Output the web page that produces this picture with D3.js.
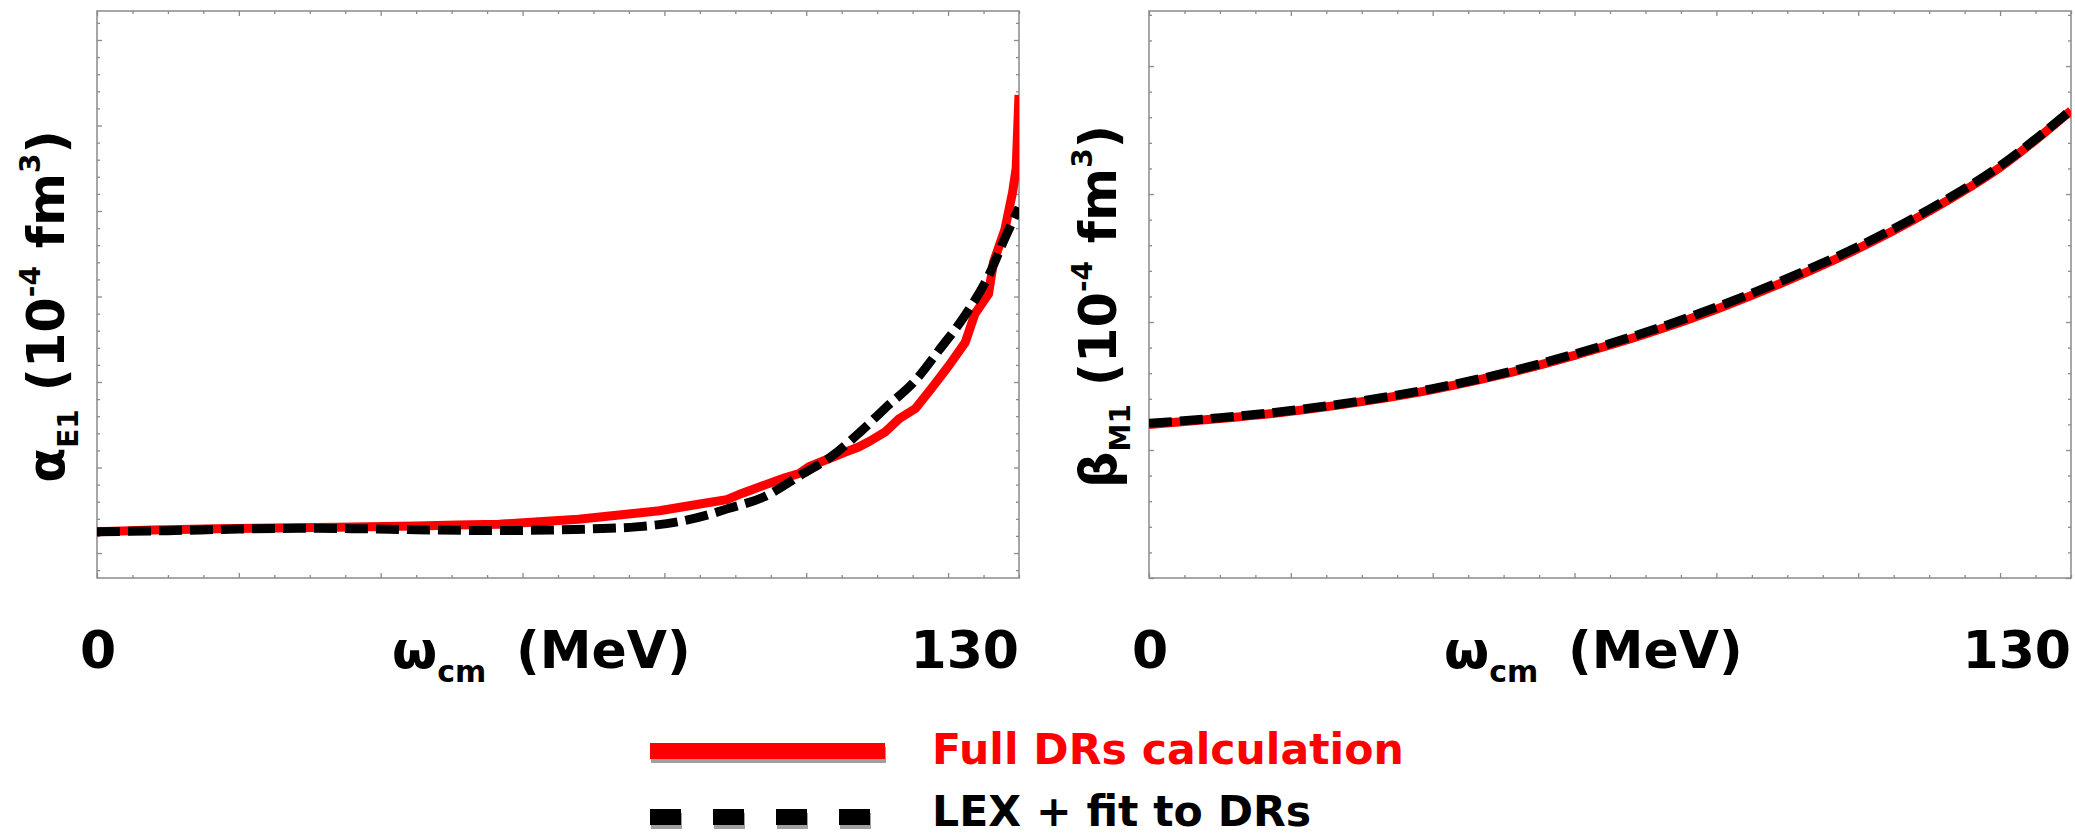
<!DOCTYPE html>
<html>
<head>
<meta charset="utf-8">
<script src="https://cdn.jsdelivr.net/npm/d3@7"></script>
<style>
  body { margin: 0; background: #fff; }
  svg { display: block; }
  text { font-family: "DejaVu Sans", sans-serif; font-weight: bold; white-space: pre; }
</style>
</head>
<body>
<svg id="chart" width="2075" height="837"></svg>
<script>
// Electric polarizability alpha_E1(omega), full dispersion-relation calculation
const omegaAlphaDR = [0, 8, 17, 25, 33.8, 45.1, 50.8, 56.7, 62.3, 67.9, 73.6, 79.3, 85, 88.8, 91, 94.3, 97, 99,
  100.4, 103.7, 105.5, 107.4, 109, 111.2, 113.1, 115.4, 117.7, 120.1, 122.4, 123.8, 125.7, 126.4, 128, 129.1, 129.6, 130];
const alphaDR = [10.249, 10.268, 10.284, 10.294, 10.301, 10.316, 10.327, 10.336, 10.366, 10.394, 10.444, 10.495, 10.573,
  10.625, 10.70, 10.80, 10.88, 10.93, 11.01, 11.12, 11.18, 11.24, 11.31, 11.42, 11.57, 11.69, 11.93, 12.19,
  12.46, 12.80, 13.03, 13.40, 13.78, 14.22, 14.50, 15.357];

// alpha_E1(omega) from the low-energy expansion fitted to the DRs
const omegaAlphaLEX = [0, 10, 20, 28, 36, 45, 55, 64, 70, 76, 82, 86, 89, 94, 99, 103.7, 107.4, 111.2, 115.4,
  118.7, 122.4, 125.7, 128, 130];
const alphaLEX = [10.249, 10.262, 10.280, 10.289, 10.285, 10.273, 10.263, 10.269, 10.283, 10.306, 10.366, 10.444,
  10.52, 10.655, 10.90, 11.139, 11.40, 11.70, 12.02, 12.37, 12.78, 13.24, 13.68, 14.04];

// Magnetic polarizability beta_M1(omega)
const omegaBeta = [0, 10, 20, 30, 40, 50, 60, 70, 80, 90, 100, 110, 120, 130];
const betaDR  = [2.600, 2.623, 2.651, 2.689, 2.736, 2.796, 2.870, 2.953, 3.050, 3.162, 3.287, 3.433, 3.604, 3.826];
const betaLEX = [2.604, 2.626, 2.654, 2.692, 2.740, 2.800, 2.875, 2.960, 3.058, 3.170, 3.295, 3.440, 3.610, 3.828];

const xEndLabels = ["0", "130"];
const seriesNames = ["Full DRs calculation", "LEX + fit to DRs"];

const RED = "#ff0000", BLACK = "#000000", FRAME = "#8a8a8a";
const svg = d3.select("#chart");
const plotTop = 11, plotBottom = 578;

const panels = [
  { x0: 97,   x1: 1019, yDomain: [9.708, 16.339], step: 0.2, major: 1.0,
    omegaDR: omegaAlphaDR, dr: alphaDR, omegaLEX: omegaAlphaLEX, lex: alphaLEX, sym: "α", sub: "E1", drCurve: d3.curveLinear },
  { x0: 1149, x1: 2071, yDomain: [2.0, 4.215], step: 0.1, major: 0.5,
    omegaDR: omegaBeta, dr: betaDR, omegaLEX: omegaBeta, lex: betaLEX, sym: "β", sub: "M1", drCurve: d3.curveMonotoneX }
];

function tickRange(lo, hi, step) {
  const out = [];
  for (let i = Math.ceil(lo / step - 1e-9); i * step <= hi + 1e-9; i++) out.push(+(i * step).toFixed(6));
  return out;
}
const isMajor = (v, m) => Math.abs(v / m - Math.round(v / m)) < 1e-6;

panels.forEach((p, idx) => {
  const x = d3.scaleLinear().domain([0, 130]).range([p.x0, p.x1]);
  const y = d3.scaleLinear().domain(p.yDomain).range([plotBottom, plotTop]);
  const g = svg.append("g");

  const clipId = "clip" + idx;
  svg.append("defs").append("clipPath").attr("id", clipId)
    .append("rect").attr("x", p.x0).attr("y", plotTop).attr("width", p.x1 - p.x0).attr("height", plotBottom - plotTop);

  // tick marks on all four sides, pointing inward
  const xt = tickRange(0, 130, 5);
  const yt = tickRange(p.yDomain[0], p.yDomain[1], p.step);
  const sets = [
    { xs: xt.filter(v => !isMajor(v, 20)), ys: yt.filter(v => !isMajor(v, p.major)), len: 3 },
    { xs: xt.filter(v => isMajor(v, 20)),  ys: yt.filter(v => isMajor(v, p.major)),  len: 5 }
  ];
  sets.forEach(s => {
    const axes = [
      [d3.axisBottom(x).tickValues(s.xs), `translate(0,${plotBottom})`],
      [d3.axisTop(x).tickValues(s.xs), `translate(0,${plotTop})`],
      [d3.axisLeft(y).tickValues(s.ys), `translate(${p.x0},0)`],
      [d3.axisRight(y).tickValues(s.ys), `translate(${p.x1},0)`]
    ];
    axes.forEach(([ax, tr]) => {
      const a = g.append("g").attr("transform", tr)
        .call(ax.tickSizeInner(-s.len).tickSizeOuter(0).tickFormat(""));
      a.select(".domain").remove();
      a.selectAll("line").attr("stroke", FRAME).attr("stroke-width", 1.3);
    });
  });

  g.append("rect").attr("x", p.x0).attr("y", plotTop)
    .attr("width", p.x1 - p.x0).attr("height", plotBottom - plotTop)
    .attr("fill", "none").attr("stroke", FRAME).attr("stroke-width", 1.5);

  const curves = g.append("g").attr("clip-path", `url(#${clipId})`);
  const drLine = d3.line().x((d, i) => x(p.omegaDR[i])).y(d => y(d)).curve(p.drCurve);
  const lexLine = d3.line().x((d, i) => x(p.omegaLEX[i])).y(d => y(d)).curve(d3.curveMonotoneX);
  curves.append("path").attr("d", drLine(p.dr)).attr("fill", "none")
    .attr("stroke", RED).attr("stroke-width", 9).attr("stroke-linejoin", "round");
  curves.append("path").attr("d", lexLine(p.lex)).attr("fill", "none")
    .attr("stroke", BLACK).attr("stroke-width", 9).attr("stroke-dasharray", "23,8");

  // x-axis end labels and title
  g.append("text").attr("x", x(0) + 1).attr("y", 668).attr("text-anchor", "middle")
    .attr("font-size", 52).text(xEndLabels[0]);
  g.append("text").attr("x", x(130)).attr("y", 668).attr("text-anchor", "end")
    .attr("font-size", 52).text(xEndLabels[1]);
  const xt1 = g.append("text").attr("x", p.x0 + 295).attr("y", 668).attr("font-size", 52);
  xt1.append("tspan").text("ω");
  xt1.append("tspan").attr("font-size", 30).attr("dy", 14).text("cm");
  xt1.append("tspan").attr("x", p.x0 + 419).attr("dy", -14).text("(MeV)");

  // y-axis title
  const cy = (plotTop + plotBottom) / 2 + 12;
  const yl = g.append("text").attr("transform", `translate(${p.x0 - 33},${cy}) rotate(-90)`)
    .attr("text-anchor", "middle").attr("font-size", 51);
  yl.append("tspan").text(p.sym);
  yl.append("tspan").attr("font-size", 28).attr("dy", 14).text(p.sub);
  yl.append("tspan").attr("dy", -14).text(" (10");
  yl.append("tspan").attr("font-size", 28).attr("dy", -24).text("-4");
  yl.append("tspan").attr("dy", 24).text(" fm");
  yl.append("tspan").attr("font-size", 28).attr("dy", -24).text("3");
  yl.append("tspan").attr("dy", 24).text(")");
});

// legend
const lg = svg.append("g");
const SHADOW = "#a0a0a0";
lg.append("rect").attr("x", 651).attr("y", 747).attr("width", 235).attr("height", 16).attr("fill", SHADOW);
lg.append("rect").attr("x", 650).attr("y", 743).attr("width", 235).attr("height", 16).attr("fill", RED);
d3.range(4).forEach(i => {
  lg.append("rect").attr("x", 651 + i * 63).attr("y", 813).attr("width", 31).attr("height", 16).attr("fill", SHADOW);
  lg.append("rect").attr("x", 650 + i * 63).attr("y", 809).attr("width", 31).attr("height", 16).attr("fill", BLACK);
});
lg.append("text").attr("x", 932).attr("y", 764).attr("font-size", 42.6).attr("fill", RED).text(seriesNames[0]);
lg.append("text").attr("x", 932).attr("y", 826).attr("font-size", 42.6).attr("fill", BLACK).text(seriesNames[1]);
</script>
</body>
</html>
